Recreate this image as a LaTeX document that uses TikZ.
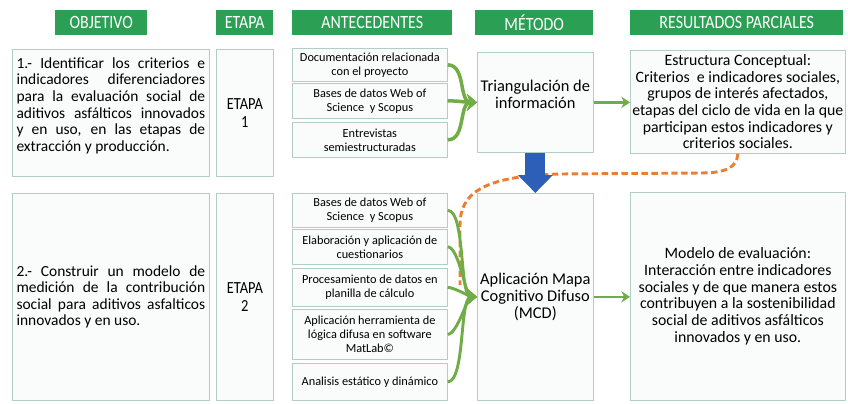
\documentclass[tikz,border=0pt]{standalone}
\usepackage{fontspec}
\setmainfont{Carlito}
\newfontfamily\hdrfont[FakeStretch=0.85]{Carlito}
\usetikzlibrary{arrows.meta}
\definecolor{hdrgreen}{RGB}{43,160,84}
\definecolor{boxline}{RGB}{178,206,196}
\definecolor{boxfill}{RGB}{250,251,251}
\definecolor{arrgreen}{RGB}{112,173,71}
\definecolor{linkorange}{RGB}{237,125,49}
\definecolor{arrblue}{RGB}{45,95,185}
\tikzset{
  hdr/.style={fill=hdrgreen, text=white, anchor=north west, minimum height=7.5mm, inner sep=0pt,
    font=\hdrfont\fontsize{16}{17}\selectfont},
  box/.style={draw=boxline, fill=boxfill, line width=0.6pt, anchor=north west, inner sep=1mm},
  obj/.style={box, minimum width=59.1mm, text width=56.6mm, align=justify,
    font=\fontsize{13.2}{14.2}\selectfont},
  etapa/.style={box, minimum width=17.1mm, align=center, font=\hdrfont\fontsize{14.5}{15.5}\selectfont},
  ant/.style={box, minimum width=46.5mm, align=center, inner sep=0.5mm, font=\fontsize{10.5}{12}\selectfont},
  metodo/.style={box, minimum width=34.8mm, align=center, inner sep=0.3mm, font=\fontsize{14}{14.5}\selectfont},
  resul/.style={box, minimum width=64.5mm, align=center, inner sep=0.3mm, font=\fontsize{13.5}{14.2}\selectfont},
  feed/.style={draw=arrgreen, line width=3pt, -{Stealth[length=3mm,width=5mm]}},
  toward/.style={draw=arrgreen, line width=2.2pt, -{Stealth[length=2.6mm,width=3.4mm]}},
  down/.style={draw=arrblue, line width=6mm, -{Triangle[length=5.4mm,width=10.2mm]}},
  link/.style={draw=linkorange, line width=2.5pt, dash pattern=on 5.5pt off 3pt}
}
\begin{document}
\begin{tikzpicture}[x=0.3mm, y=-0.3mm, line join=round]
\useasboundingbox (0,0) rectangle (848,403);

% cabeceras
\node[hdr, minimum width=27.6mm] (hobj) at (55,10) {OBJETIVO};
\node[hdr, minimum width=17.1mm] (heta) at (216,10) {ETAPA};
\node[hdr, minimum width=48mm] (hant) at (292,10) {ANTECEDENTES};
\node[hdr, minimum width=35.4mm] (hmet) at (475,10) {MÉTODO};
\node[hdr, minimum width=63.9mm] (hres) at (630,10) {RESULTADOS PARCIALES};

% etapa 1
\node[obj, minimum height=38.1mm] (obj1) at (12,49) {1.- Identificar los criterios e\linebreak
  indicadores diferenciadores\linebreak para la evaluación social de\linebreak
  aditivos asfálticos innovados\linebreak y en uso, en las etapas de\linebreak
  extracción y producción.\par\mbox{}};
\node[etapa, minimum height=38.1mm] (eta1) at (216,49) {ETAPA\\1};
\node[ant, minimum height=9.9mm] (a1) at (292,48) {Documentación relacionada\\con el proyecto};
\node[ant, minimum height=10.5mm] (a2) at (292,83) {Bases de datos Web of\\Science \ y Scopus};
\node[ant, minimum height=10.5mm] (a3) at (292,122) {Entrevistas\\semiestructuradas};
\node[metodo, minimum height=30mm] (tri) at (477,52) {Triangulación de\\información\\\mbox{}};
\node[resul, minimum height=30.9mm] (res1) at (630,50) {Estructura Conceptual:\\
  Criterios \ e indicadores sociales,\\grupos de interés afectados,\\
  etapas del ciclo de vida en la que\\participan estos indicadores y\\criterios sociales.};

% etapa 2
\node[obj, minimum height=62.1mm] (obj2) at (12,193) {2.- Construir un modelo de\linebreak
  medición de la contribución\linebreak social para aditivos asfalticos\linebreak
  innovados y en uso.};
\node[etapa, minimum height=62.1mm] (eta2) at (216,193) {ETAPA\\2};
\node[ant, minimum height=10.2mm] (b1) at (292,193) {Bases de datos Web of\\Science \ y Scopus};
\node[ant, minimum height=10.5mm] (b2) at (292,229) {Elaboración y aplicación de\\cuestionarios};
\node[ant, minimum height=11.4mm] (b3) at (292,268) {Procesamiento de datos en\\planilla de cálculo};
\node[ant, minimum height=15mm] (b4) at (292,309) {Aplicación herramienta de\\lógica difusa en software\\MatLab©};
\node[ant, minimum height=11.1mm] (b5) at (292,363) {Analisis estático y dinámico};
\node[metodo, minimum height=62.1mm] (mcd) at (477,193) {Aplicación Mapa\\Cognitivo Difuso\\(MCD)};
\node[resul, minimum height=62.4mm] (res2) at (630,192) {Modelo de evaluación:\\
  Interacción entre indicadores\\sociales y de que manera estos\\
  contribuyen a la sostenibilidad\\social de aditivos asfálticos\\innovados y en uso.};

% enlaces
\coordinate (oend) at (460,285);
\draw[link] (res1.south) .. controls (737,168) and (725,173) .. (700,173) -- (560,174)
  .. controls (480,176) and (460,195) .. (460,225) -- (oend);
\draw[down] (tri.south) -- (mcd.north);
\foreach \n in {a1,a2,a3} \draw[feed] (\n.east) to[out=0, in=180] (tri.west);
\foreach \n in {b1,b2,b3,b4,b5} \draw[feed, line width=2.5pt] (\n.east) to[out=0, in=180, looseness=0.5] (mcd.west);
\draw[toward] (tri.east) -- (res1.west |- tri.east);
\draw[toward] (mcd.east) -- (res2.west |- mcd.east);
\end{tikzpicture}
\end{document}
